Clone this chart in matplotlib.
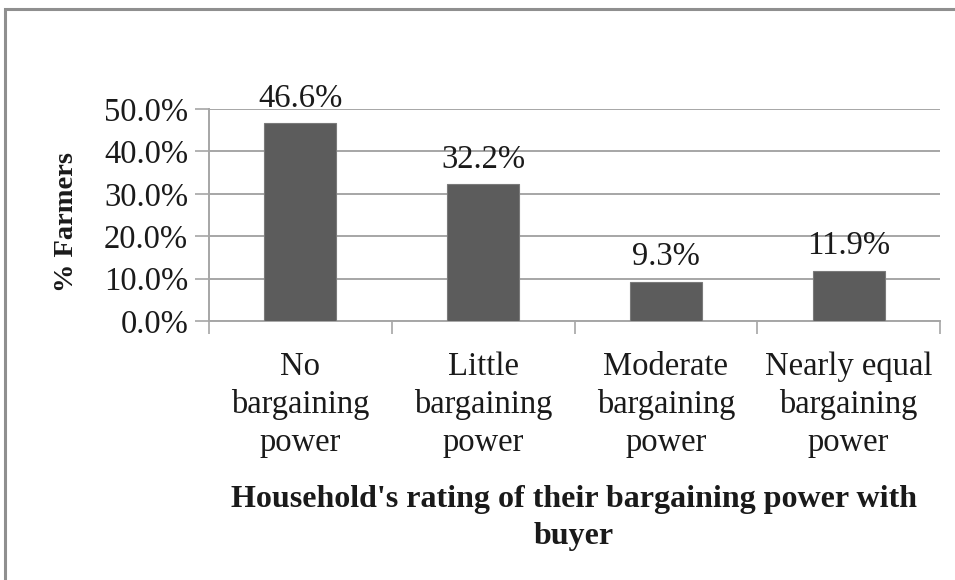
import matplotlib
matplotlib.use("Agg")
import matplotlib.pyplot as plt
from matplotlib.patches import Rectangle

categories = ["No\nbargaining\npower", "Little\nbargaining\npower",
              "Moderate\nbargaining\npower", "Nearly equal\nbargaining\npower"]
values = [46.6, 32.2, 9.3, 11.9]
value_labels = ["46.6%", "32.2%", "9.3%", "11.9%"]
yticks = [0, 10, 20, 30, 40, 50]
ytick_labels = ["0.0%", "10.0%", "20.0%", "30.0%", "40.0%", "50.0%"]

plt.rcParams["font.family"] = ["Liberation Serif", "DejaVu Serif"]

W, H = 955, 580
fig = plt.figure(figsize=(W / 100, H / 100), dpi=100)
ax = fig.add_axes([209 / W, 1 - 321 / H, (940 - 209) / W, (321 - 109) / H])

fs = 23.5
grey = "#a6a6a6"
text_c = "#1a1a1a"
x = range(len(values))
ax.bar(x, values, width=0.395, color="#5c5c5c", edgecolor="#7a7a7a",
       linewidth=0.8, zorder=3)
ax.set_xlim(-0.5, len(values) - 0.5)
ax.set_ylim(0, 50)

ax.set_yticks(yticks)
ax.set_yticklabels(ytick_labels, fontsize=fs, color=text_c)
ax.yaxis.grid(True, color=grey, linewidth=1.4, zorder=0)
ax.tick_params(axis="y", length=10, width=1.2, color=grey, pad=5)

# category boundaries carry the x tick marks
ax.set_xticks([i - 0.5 for i in range(len(values) + 1)], minor=False)
ax.set_xticklabels([""] * (len(values) + 1))
ax.tick_params(axis="x", which="major", length=9, width=1.2, color=grey)
ax.set_xticks(list(x), minor=True)
ax.set_xticklabels(categories, minor=True, fontsize=fs, color=text_c,
                   linespacing=1.3)
ax.tick_params(axis="x", which="minor", length=0, pad=22)

for s in ["top", "right"]:
    ax.spines[s].set_visible(False)
for s in ["left", "bottom"]:
    ax.spines[s].set_color(grey)
    ax.spines[s].set_linewidth(1.4)

for xi, v, lab in zip(x, values, value_labels):
    ax.annotate(lab, (xi, v), xytext=(0, 7), textcoords="offset points",
                ha="center", va="bottom", fontsize=fs, color=text_c)

ax.set_ylabel("% Farmers", fontsize=20.5, fontweight="bold", color=text_c)
ax.yaxis.set_label_coords(-0.178, 0.467)
fig.text(574 / W, 1 - 518 / H,
         "Household's rating of their bargaining power with\nbuyer",
         ha="center", va="center", fontsize=23, fontweight="bold",
         color=text_c, linespacing=1.38)

# outer frame
fig.patches.append(Rectangle((5 / W, -0.1), 1.2, 1 - 9 / H + 0.1,
                             transform=fig.transFigure, fill=False,
                             edgecolor="#8f8f8f", linewidth=2.2))

fig.savefig("out.png", dpi=100)
